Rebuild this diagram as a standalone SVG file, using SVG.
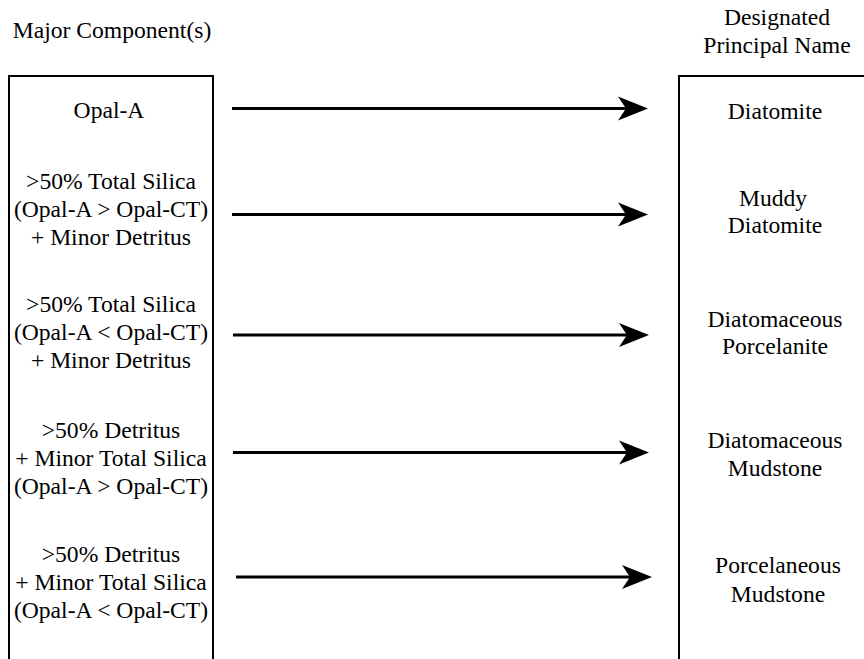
<svg xmlns="http://www.w3.org/2000/svg" width="864" height="659" viewBox="0 0 864 659">
  <style>
    .t { font-family: 'Liberation Serif', 'Times New Roman', serif; font-size: 23.6px; fill: #000; text-anchor: middle; }
    .box { fill: none; stroke: #000; stroke-width: 2; }
    .conn { stroke: #000; stroke-width: 3; fill: none; }
    .head { fill: #000; stroke: none; }
  </style>
  <rect width="864" height="659" fill="#fff"/>
  <g id="header-left" class="t">
    <text x="112" y="38">Major Component(s)</text>
  </g>
  <g id="header-right" class="t">
    <text x="777" y="25">Designated</text>
    <text x="777" y="52.5">Principal Name</text>
  </g>
  <g id="left-box">
    <rect class="box" x="9" y="76" width="204" height="610"/>
    <g class="t">
      <text x="109" y="118">Opal-A</text>
      <text x="111" y="189">&gt;50% Total Silica</text>
      <text x="111" y="217">(Opal-A &gt; Opal-CT)</text>
      <text x="111" y="245">+ Minor Detritus</text>
      <text x="111" y="311.5">&gt;50% Total Silica</text>
      <text x="111" y="340">(Opal-A &lt; Opal-CT)</text>
      <text x="111" y="368">+ Minor Detritus</text>
      <text x="111" y="438">&gt;50% Detritus</text>
      <text x="111" y="466">+ Minor Total Silica</text>
      <text x="111" y="494">(Opal-A &gt; Opal-CT)</text>
      <text x="111" y="562">&gt;50% Detritus</text>
      <text x="111" y="590">+ Minor Total Silica</text>
      <text x="111" y="618">(Opal-A &lt; Opal-CT)</text>
    </g>
  </g>
  <g id="right-box">
    <rect class="box" x="679" y="76" width="220" height="610"/>
    <g class="t">
      <text x="775" y="119">Diatomite</text>
      <text x="773" y="206">Muddy</text>
      <text x="775" y="233">Diatomite</text>
      <text x="775" y="327">Diatomaceous</text>
      <text x="775" y="354">Porcelanite</text>
      <text x="775" y="448">Diatomaceous</text>
      <text x="775" y="476">Mudstone</text>
      <text x="778" y="573">Porcelaneous</text>
      <text x="778" y="601.5">Mudstone</text>
    </g>
  </g>
  <g id="connectors">
    <line class="conn" x1="232" y1="108.5" x2="630" y2="108.5"/>
    <path class="head" d="M648,108.5 L618,96.5 L626,108.5 L618,120.5 Z"/>
    <line class="conn" x1="232" y1="214.5" x2="630" y2="214.5"/>
    <path class="head" d="M648,214.5 L618,202.5 L626,214.5 L618,226.5 Z"/>
    <line class="conn" x1="233" y1="335" x2="631" y2="335"/>
    <path class="head" d="M649,335 L619,323 L627,335 L619,347 Z"/>
    <line class="conn" x1="233" y1="452.5" x2="631" y2="452.5"/>
    <path class="head" d="M649,452.5 L619,440.5 L627,452.5 L619,464.5 Z"/>
    <line class="conn" x1="236" y1="577" x2="634" y2="577"/>
    <path class="head" d="M652,577 L622,565 L630,577 L622,589 Z"/>
  </g>
</svg>
